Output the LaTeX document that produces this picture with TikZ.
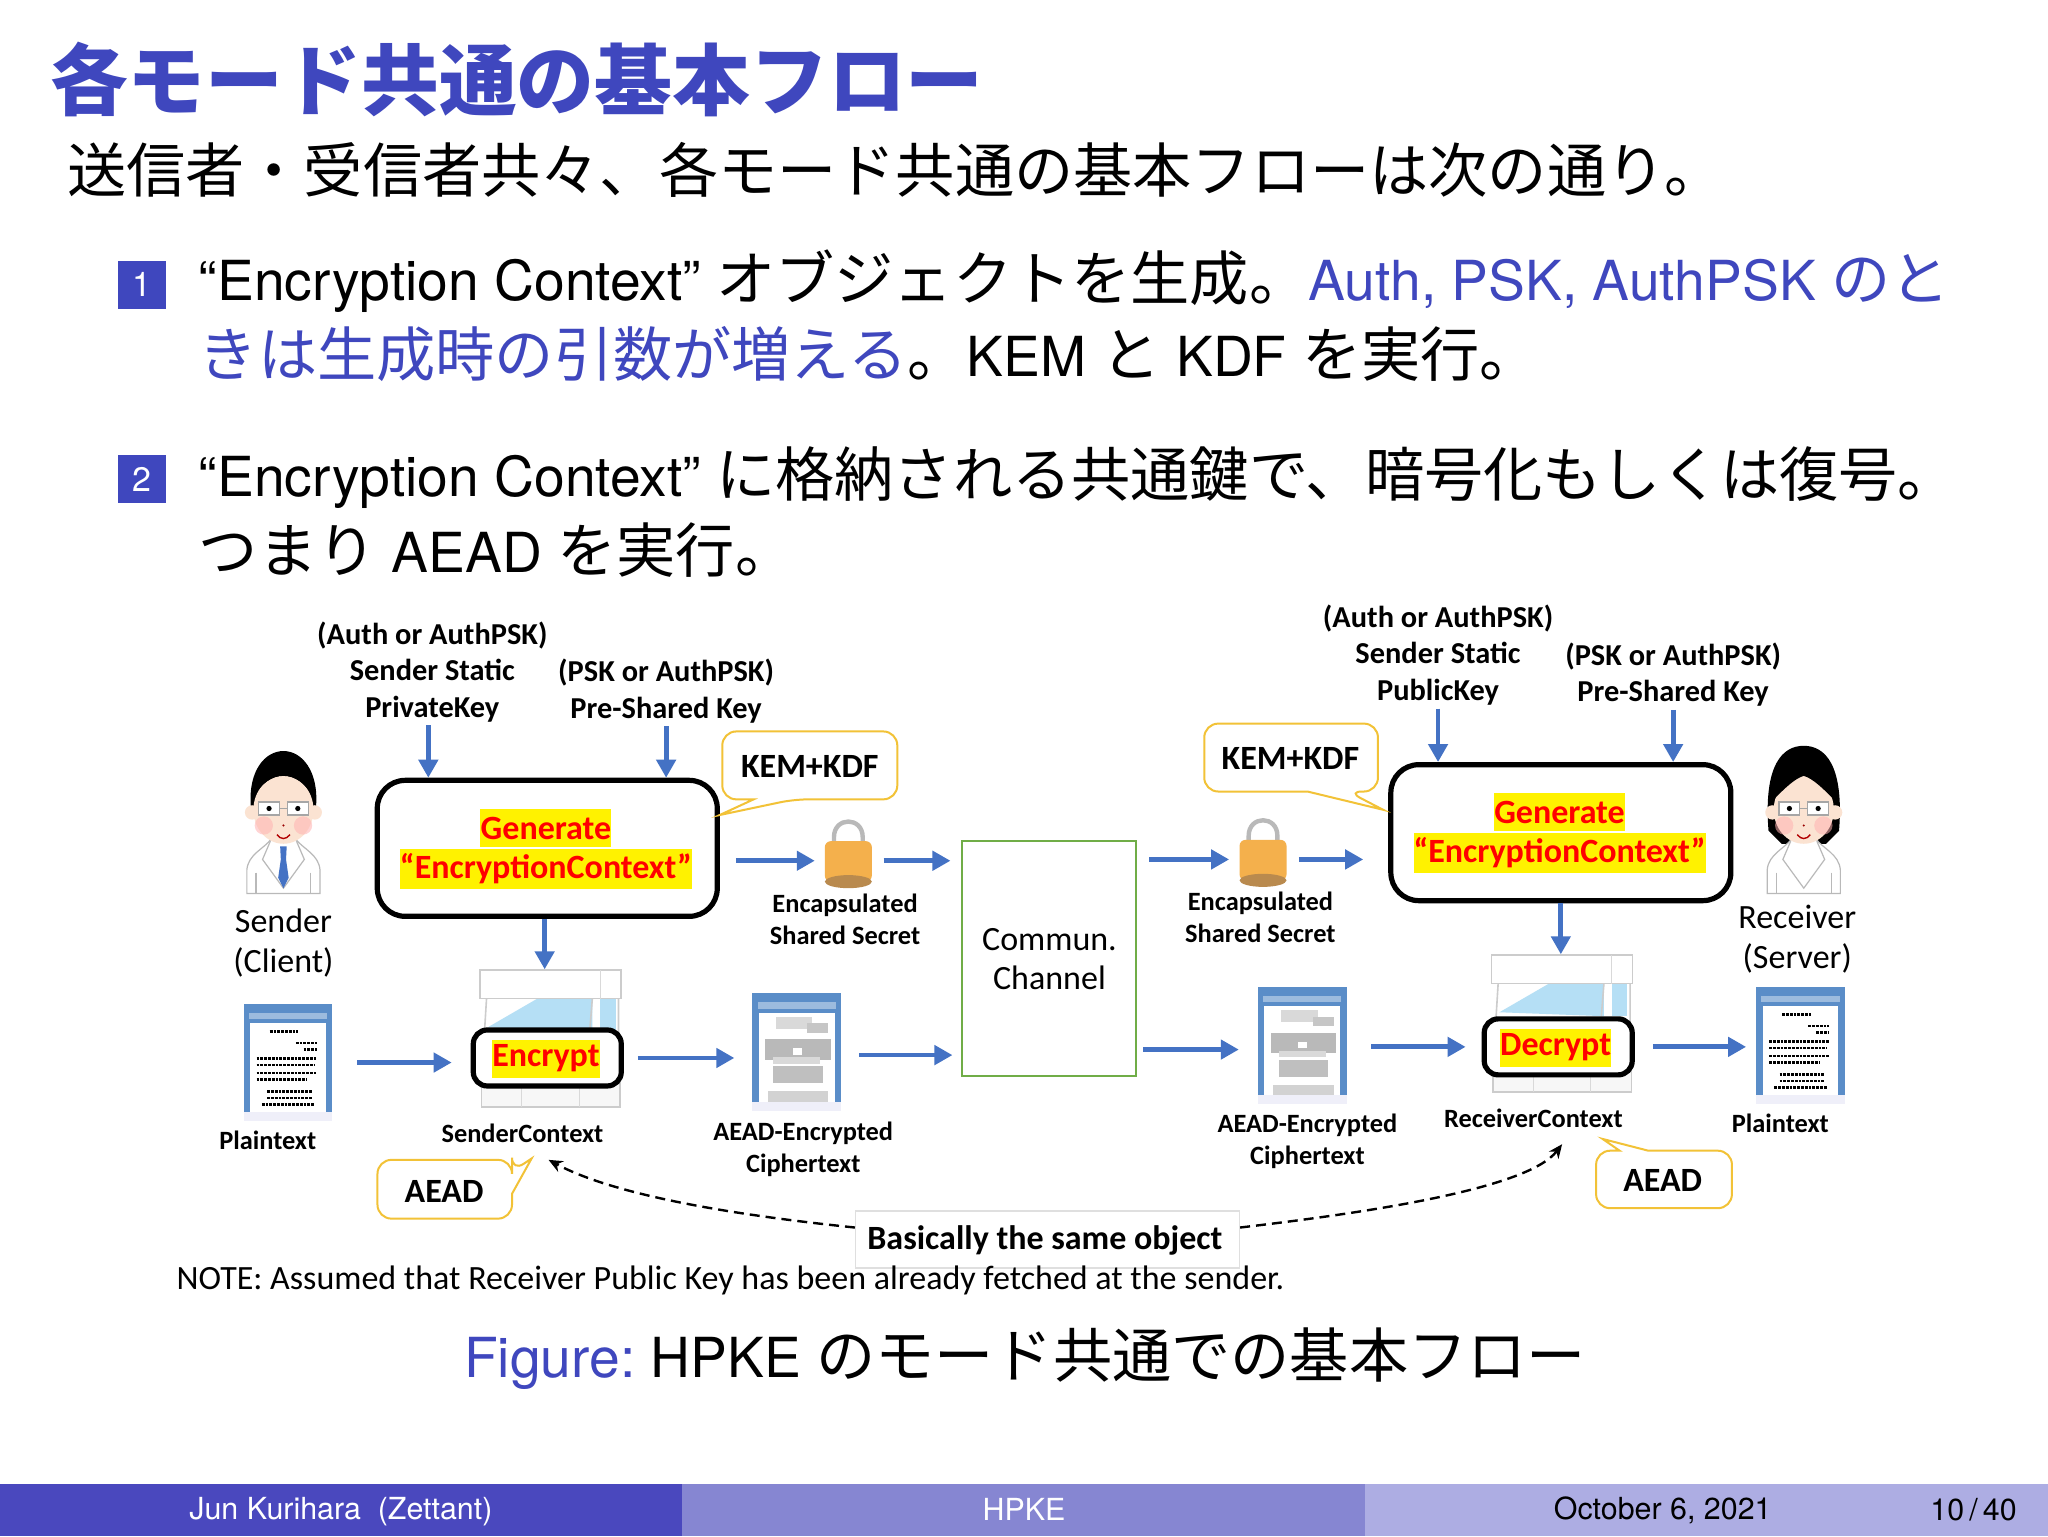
\documentclass[tikz,border=0pt]{standalone}
\usepackage{fontspec}
\setmainfont{TeX Gyre Heros}
\newfontfamily\cjkfam{Noto Sans CJK JP}
\newfontfamily\diagfont{Carlito}
\newcommand{\cjk}[1]{{\cjkfam\fontsize{29.6}{30}\selectfont #1}}
\usetikzlibrary{arrows.meta,calc,positioning}
\definecolor{mainblue}{HTML}{3F47BE}
\definecolor{footA}{HTML}{4A48BE}
\definecolor{footB}{HTML}{8686D2}
\definecolor{footC}{HTML}{ADADE3}
\definecolor{flowblue}{HTML}{4472C4}
\definecolor{goldline}{HTML}{F2C237}
\definecolor{commgreen}{HTML}{70AD47}
\definecolor{skin}{HTML}{FBE3D2}
\definecolor{docblue}{HTML}{5A8DC8}
\definecolor{glass}{HTML}{B5DFF5}
\definecolor{lockbody}{HTML}{F4B04C}
\definecolor{lockbase}{HTML}{B98A4E}
\tikzset{
  pics/person/.style={code={
    \draw[gray!55,fill=white,line width=.6pt] (-28,54) -- (-28,36) .. controls (-27,24) and (-15,20) .. (-9,12) -- (9,12) .. controls (15,20) and (27,24) .. (28,36) -- (28,54) -- cycle;
    \draw[gray!55,line width=.6pt] (-10,14) -- (-16,28) -- (0,50) -- (16,28) -- (10,14);
    \draw[gray!55,line width=.6pt] (-21,38) -- (-21,54) (21,38) -- (21,54);
  }},
  pics/face/.style={code={
    \fill[skin] (-24,-8) circle (5.5) (24,-8) circle (5.5);
    \fill[skin] (0,-10) ellipse [x radius=23,y radius=26];
    \fill[red!30,opacity=.55] (-15,2) circle (7) (15,2) circle (7);
    \draw[gray!70,fill=white,line width=.6pt] (-19,-16) rectangle (-3,-6) (3,-16) rectangle (19,-6);
    \fill[black] (-11,-11) circle (2) (11,-11) circle (2);
    \draw[gray!70,line width=.6pt] (-3,-11) -- (3,-11);
    \fill[red!60!black] (0,2) circle (.9);
    \draw[red!70!black,line width=.7pt] (-5,9) .. controls (-2,13) and (2,13) .. (5,9);
  }},
  pics/docbase/.style={code={
    \fill[docblue] (-34,-45) rectangle (34,45);
    \fill[footC!20!white] (-34,38) rectangle (34,45);
    \fill[white] (-29,-30) rectangle (29,38);
    \fill[docblue!60!white] (-30,-38) rectangle (30,-33);
  }},
  pics/plaindoc/.style={code={
    \pic {docbase};
    \foreach \xa/\xb/\ya in {-14/8/-24,6/22/-15,12/22/-10,-24/22/-3,-24/20/2,-24/22/8,-24/14/13,-16/18/22,-16/18/27,-20/20/32}
      \draw[black,line width=1.3pt,dash pattern=on 1.4pt off .5pt] (\xa,\ya) -- (\xb,\ya);
  }},
  pics/blurdoc/.style={code={
    \pic {docbase};
    \fill[gray!30] (-16,-27) rectangle (12,-18);
    \fill[gray!45] (8,-22) rectangle (24,-15);
    \fill[gray!55] (-24,-10) rectangle (26,6);
    \fill[gray!30] (-18,4) rectangle (18,9);
    \fill[white] (-3,-3) rectangle (4,2);
    \fill[gray!50] (-18,11) rectangle (20,24);
    \fill[gray!35] (-22,30) rectangle (24,38);
  }},
  pics/booth/.style={code={
    \draw[gray!40,fill=gray!6,line width=.8pt] (-53,34) -- (-53,53) -- (53,53) -- (53,34) -- cycle;
    \fill[white] (-53,-30) rectangle (53,35);
    \fill[glass] (-48,-8) -- (-10,-30) -- (32,-30) -- (32,-5) -- cycle;
    \fill[glass] (38,-30) -- (50,-30) -- (50,-5) -- (38,-5) -- cycle;
    \draw[gray!40,line width=.8pt] (-49,-30) -- (-53,35) (52,-30) -- (52,35) (32,-30) -- (30,-5);
    \draw[gray!40,fill=white,line width=.8pt] (-54,-52) -- (54,-52) -- (54,-30) -- (-54,-30) -- cycle;
    \draw[gray!30,line width=.6pt] (38,-52) -- (38,-30) (-22,34) -- (-22,53) (22,34) -- (22,53);
  }},
  pics/padlock/.style={code={
    \draw[gray!55,line width=2.2pt] (-11,-14) -- (-11,-18) .. controls (-11,-34) and (11,-34) .. (11,-18) -- (11,-14);
    \fill[lockbody,rounded corners=3pt] (-18,-15) rectangle (18,16);
    \fill[lockbase] (0,16) ellipse [x radius=18,y radius=5];
  }}
}
\begin{document}
\begin{tikzpicture}[x=0.65306pt,y=-0.65306pt]
  \tikzstyle{flow} = [draw=flowblue,line width=2.4pt,-{Stealth[length=9pt,width=9.5pt,inset=0pt]}];
  \tikzstyle{itemnum} = [fill=mainblue,text=white,minimum size=24pt,inner sep=0pt,font=\fontsize{17}{17}\selectfont];
  \tikzstyle{jpline} = [anchor=base west,inner sep=0pt,font=\fontsize{27.6}{30}\selectfont];
  \tikzstyle{boldlabel} = [inner sep=0pt,align=center,font=\diagfont\bfseries\fontsize{15.2}{18.2}\selectfont];
  \tikzstyle{smalllabel} = [inner sep=0pt,align=center,font=\diagfont\bfseries\fontsize{13.2}{16}\selectfont];
  \tikzstyle{plainlabel} = [inner sep=0pt,align=center,font=\diagfont\fontsize{17}{20.2}\selectfont];
  \tikzstyle{genbox} = [draw=black,line width=2.6pt,rounded corners=14pt,fill=white,minimum width=170pt,minimum height=68pt];
  \tikzstyle{opbox} = [draw=black,line width=2.6pt,rounded corners=7pt,minimum width=74pt,minimum height=28pt];
  \tikzstyle{hilite} = [fill=yellow,text=red,inner sep=0pt,font=\diagfont\bfseries\fontsize{17}{17}\selectfont];
  \tikzstyle{callout} = [draw=goldline,line width=1pt,rounded corners=7pt,fill=white];
  \tikzstyle{calltext} = [inner sep=0pt,font=\diagfont\bfseries\fontsize{17}{17}\selectfont];
  \tikzstyle{dashcurve} = [draw=black,line width=1.2pt,dash pattern=on 5pt off 3pt,-{Stealth[length=7pt,width=6pt]}];
  \tikzstyle{slot} = [inner sep=0pt,minimum width=44pt,minimum height=58pt];
  \tikzstyle{footseg} = [inner sep=0pt,minimum width=341.6pt,minimum height=26.2pt,font=\fontsize{15.2}{16}\selectfont];

  \useasboundingbox (0,0) rectangle (1568,1176);
  \fill[white] (0,0) rectangle (1568,1176);

  % slide text
  \node[anchor=base west,inner sep=0pt,text=mainblue,font=\cjkfam\bfseries\fontsize{38.9}{40}\selectfont] (title) at (38,84) {各モード共通の基本フロー};
  \node[jpline,font=\cjkfam\fontsize{29.6}{30}\selectfont] (intro) at (51,147) {送信者・受信者共々、各モード共通の基本フローは次の通り。};

  \node[itemnum] (numa) at (108.5,218) {1};
  \node[jpline] (itema) at (152,230) {“Encryption Context”\ \cjk{オブジェクトを生成。}\textcolor{mainblue}{Auth, PSK, AuthPSK\ \cjk{のと}}};
  \node[jpline] (itemb) at (152,288) {\textcolor{mainblue}{\cjk{きは生成時の引数が増える}}\cjk{。}KEM\ \cjk{と}\ KDF\ \cjk{を実行。}};
  \node[itemnum] (numb) at (108.5,367) {2};
  \node[jpline] (itemc) at (152,380) {“Encryption Context”\ \cjk{に格納される共通鍵で、暗号化もしくは復号。}};
  \node[jpline] (itemd) at (152,438) {\cjk{つまり}\ AEAD\ \cjk{を実行。}};

  % sender side
  \pic at (217,630) {person};
  \fill[flowblue] (214.5,648) -- (219.5,648) -- (219,658) -- (221,672) -- (217,680) -- (213,672) -- (215,658) -- cycle;
  \fill[black] (192,617) .. controls (190,590) and (203,575) .. (217,575) .. controls (231,575) and (244,590) .. (242,617) -- (192,617);
  \pic at (217,630) {face};
  \fill[black] (194,610) .. controls (196,585) and (238,585) .. (240,610) .. controls (234,600) and (226,594) .. (217,594) .. controls (208,594) and (200,600) .. (194,610);
  \node[plainlabel] (senderlab) at (217,722) {Sender\\(Client)};

  \node[genbox] (genL) at (419,649.5) {};
  \node[hilite,minimum width=65.5pt,minimum height=19pt] (genLa) at (418,634) {Generate};
  \node[hilite,minimum width=146pt,minimum height=20pt] (genLb) at (418,665) {“EncryptionContext”};

  \node[boldlabel] (privkey) at (331,514.5) {(Auth or AuthPSK)\\Sender Static\\PrivateKey};
  \node[boldlabel] (psksend) at (510,529) {(PSK or AuthPSK)\\Pre-Shared Key};
  \draw[flow,shorten <=1.5pt] ([xshift=-2pt]privkey.south) -- ([xshift=-2pt]privkey.south |- genL.north);
  \draw[flow,shorten <=1.5pt] (psksend.south) -- (psksend.south |- genL.north);

  \draw[callout] (620,560) -- (687,560) -- (687,612) -- (608,612) [sharp corners] -- (551,624) -- (577,612) [rounded corners=7pt] -- (553,612) -- (553,560) -- cycle;
  \node[calltext] (kemL) at (620,587) {KEM+KDF};

  \node[slot,minimum width=23.5pt,minimum height=34pt] (lockL) at (649,659) {};
  \pic at (649.5,659) {padlock};
  \node[smalllabel] (encapL) at (647,703.5) {Encapsulated\\Shared Secret};

  \node[draw=commgreen,line width=1pt,minimum width=87pt,minimum height=117.5pt,inner sep=0pt,align=center,font=\diagfont\fontsize{17}{19.6}\selectfont] (comm) at (803.5,734) {Commun.\\Channel};

  \draw[flow,shorten <=8pt,shorten >=4.5pt] (genL.east |- lockL.west) -- (lockL.west);
  \draw[flow,shorten <=6pt,shorten >=5.5pt] (lockL.east) -- (lockL.east -| comm.west);

  \node[slot] (docPL) at (220.5,813.5) {};
  \pic at (220.5,813.5) {plaindoc};
  \node[smalllabel] (plainL) at (205,873) {Plaintext};

  \node[slot,minimum width=71pt,minimum height=68pt] (boothL) at (421.5,794.5) {};
  \pic at (421.5,794.5) {booth};
  \node[opbox,fill=white] (encbox) at (419,810) {};
  \node[hilite,minimum width=53.5pt,minimum height=19pt] (enctext) at (418,810.5) {Encrypt};
  \node[smalllabel] (sendctx) at (400,868) {SenderContext};
  \draw[flow] ([xshift=-1.3pt]genL.south) -- ([xshift=-1.3pt]genL.south |- boothL.north);

  \node[slot] (docCL) at (610,805.5) {};
  \pic at (610,805.5) {blurdoc};
  \node[smalllabel] (cipherL) at (615,880) {AEAD-Encrypted\\Ciphertext};

  \draw[flow,shorten <=12.4pt,shorten >=9.5pt] (docPL.east) -- (docPL.east -| encbox.west);
  \draw[flow,shorten <=7pt,shorten >=9pt] (encbox.east) -- (encbox.east -| docCL.west);
  \draw[flow,shorten <=9pt,shorten >=4.5pt] ([yshift=-1.5pt]docCL.east) -- ([yshift=-1.5pt]docCL.east -| comm.west);

  \draw[callout] (340,888) -- (392,888) -- (392,897) [sharp corners] -- (407,887) -- (392,914) [rounded corners=7pt] -- (392,933) -- (289,933) -- (289,888) -- cycle;
  \node[calltext] (aeadL) at (340,912) {AEAD};

  % receiver side
  \fill[black] (1354,636) .. controls (1350,585) and (1365,571) .. (1381,571) .. controls (1397,571) and (1412,585) .. (1408,636) -- (1398,646) -- (1364,646) -- cycle;
  \pic at (1381,630) {person};
  \pic at (1381,630) {face};
  \fill[black] (1358,612) .. controls (1360,590) and (1372,585) .. (1381,587) .. controls (1392,585) and (1402,590) .. (1404,612) .. controls (1396,604) and (1388,596) .. (1381,594) .. controls (1374,596) and (1366,604) .. (1358,612);
  \node[plainlabel] (recvlab) at (1376,719) {Receiver\\(Server)};

  \node[genbox] (genR) at (1195,637.5) {};
  \node[hilite,minimum width=65.5pt,minimum height=19pt] (genRa) at (1194,622) {Generate};
  \node[hilite,minimum width=146pt,minimum height=20pt] (genRb) at (1194,653) {“EncryptionContext”};

  \node[boldlabel] (pubkey) at (1101,501.5) {(Auth or AuthPSK)\\Sender Static\\PublicKey};
  \node[boldlabel] (pskrecv) at (1281,516.5) {(PSK or AuthPSK)\\Pre-Shared Key};
  \draw[flow,shorten <=1.5pt] (pubkey.south) -- (pubkey.south |- genR.north);
  \draw[flow,shorten <=1.5pt] (pskrecv.south) -- (pskrecv.south |- genR.north);

  \draw[callout] (988,554) -- (1055,554) -- (1055,606) -- (1032,606) [sharp corners] -- (1059,620) -- (1001,606) [rounded corners=7pt] -- (922,606) -- (922,554) -- cycle;
  \node[calltext] (kemR) at (988,581) {KEM+KDF};

  \node[slot,minimum width=23.5pt,minimum height=34pt] (lockR) at (967,658) {};
  \pic at (967,658) {padlock};
  \node[smalllabel] (encapR) at (965,702) {Encapsulated\\Shared Secret};

  \draw[flow,shorten <=6pt,shorten >=5pt] (comm.east |- lockR.west) -- (lockR.west);
  \draw[flow,shorten <=6pt,shorten >=12.5pt] (lockR.east) -- (lockR.east -| genR.west);

  \node[slot] (docCR) at (997,800.5) {};
  \pic at (997,800.5) {blurdoc};
  \node[smalllabel] (cipherR) at (1001,874) {AEAD-Encrypted\\Ciphertext};

  \node[slot,minimum width=71pt,minimum height=68pt] (boothR) at (1196,783) {};
  \pic at (1196,783) {booth};
  \node[opbox,fill=white] (decbox) at (1193,801.5) {};
  \node[hilite,minimum width=55pt,minimum height=19pt] (dectext) at (1191,802) {Decrypt};
  \node[smalllabel] (recvctx) at (1174,856) {ReceiverContext};
  \draw[flow] (genR.south) -- (genR.south |- boothR.north);

  \node[slot] (docPR) at (1378.5,800.5) {};
  \pic at (1378.5,800.5) {plaindoc};
  \node[smalllabel] (plainR) at (1363,860) {Plaintext};

  \draw[flow,shorten <=3pt,shorten >=9.5pt] ([yshift=-2pt]comm.east |- docCR.west) -- ([yshift=-2pt]docCR.west);
  \draw[flow,shorten <=12.4pt,shorten >=8pt] (decbox.west -| docCR.east) -- (decbox.west);
  \draw[flow,shorten <=9pt,shorten >=5pt] (decbox.east) -- (decbox.east -| docPR.west);

  \draw[callout] (1273,881) -- (1326,881) -- (1326,925) -- (1222,925) -- (1222,881) [sharp corners] -- (1240,881) -- (1227,872) -- (1262,881) [rounded corners=7pt] -- cycle;
  \node[calltext] (aeadR) at (1273,904) {AEAD};

  % same object note
  \node[draw=gray!25,fill=white,line width=.6pt,minimum width=192pt,minimum height=28.5pt,inner sep=0pt] (same) at (802,949) {};
  \node[inner sep=0pt,font=\diagfont\bfseries\fontsize{17}{17}\selectfont] (sametext) at (800,950) {Basically the same object};
  \coordinate (ctxL) at (420,888);
  \coordinate (ctxR) at (1196,876);
  \draw[dashcurve] ([yshift=6pt]same.west) .. controls (560,930) and (470,915) .. (ctxL);
  \draw[dashcurve] ([yshift=6pt]same.east) .. controls (1050,928) and (1170,910) .. (ctxR);
  \node[anchor=west,inner sep=0pt,font=\diagfont\fontsize{17}{17}\selectfont] (note) at (135,980) {NOTE: Assumed that Receiver Public Key has been already fetched at the sender.};

  % caption
  \node[jpline] (caption) at (355,1055) {\textcolor{mainblue}{Figure:}\ HPKE\ \cjk{のモード共通での基本フロー}};

  % footline
  \node[footseg,fill=footA,text=white] (footauthor) at (261.3,1156) {};
  \node[inner sep=0pt,text=white,font=\fontsize{15.2}{16}\selectfont] (authortext) at (261,1157) {Jun Kurihara\ \ (Zettant)};
  \node[footseg,fill=footB,text=white] (foottitle) at (784,1156) {};
  \node[inner sep=0pt,text=white,font=\fontsize{15.2}{16}\selectfont] (titletext) at (784,1156) {HPKE};
  \node[footseg,fill=footC] (footdate) at (1306.7,1156) {};
  \node[inner sep=0pt,font=\fontsize{15.2}{16}\selectfont] (datetext) at (1273,1156.5) {October 6, 2021};
  \node[inner sep=0pt,font=\fontsize{15.2}{16}\selectfont] (pagetext) at (1511,1156) {10\,/\,40};
\end{tikzpicture}
\end{document}
